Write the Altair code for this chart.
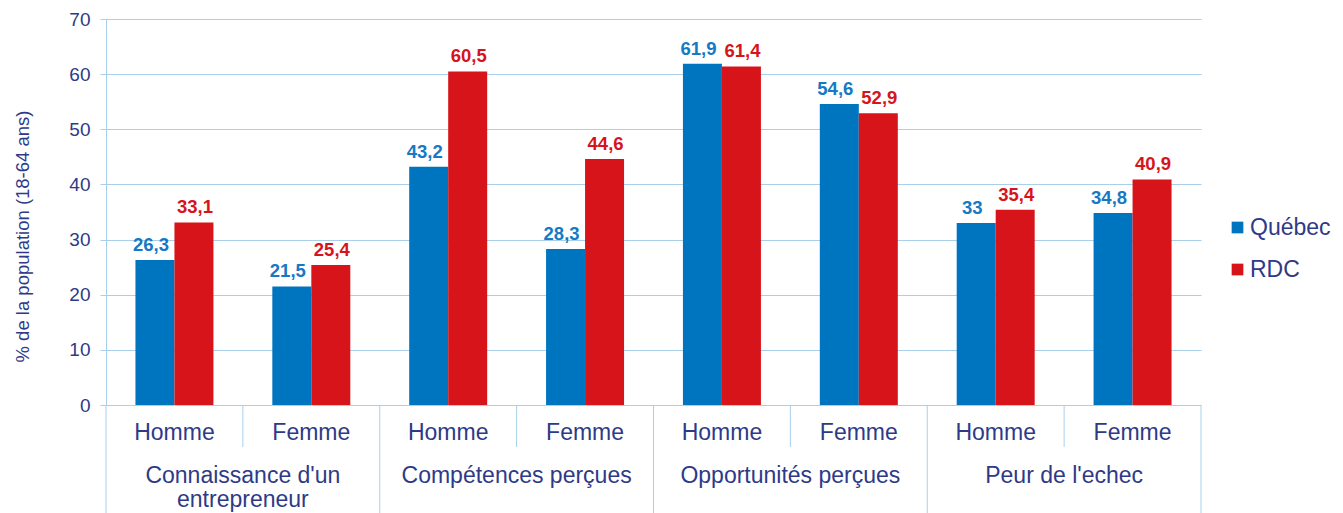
import altair as alt
import pandas as pd

groups = ["Connaissance d'un\nentrepreneur", "Compétences perçues", "Opportunités perçues", "Peur de l'echec"]
sexes = ["Homme", "Femme"]
series = ["Québec", "RDC"]
quebec = [26.3, 21.5, 43.2, 28.3, 61.9, 54.6, 33.0, 34.8]
rdc = [33.1, 25.4, 60.5, 44.6, 61.4, 52.9, 35.4, 40.9]

bar_colors = ["#0075BF", "#D7141A"]
label_colors = ["#1679C4", "#D7141A"]
NAVY = "#2E3A87"
GRID = "#A9CFEA"
FONT = "Liberation Sans"

cats = []
rows = []
for gi, g in enumerate(groups):
    for si, s in enumerate(sexes):
        idx = gi * 2 + si
        key = f"c{idx}"
        cats.append(key)
        for ser, vals in zip(series, [quebec, rdc]):
            v = vals[idx]
            rows.append({"cat": key, "group": g, "sex": s, "series": ser,
                         "value": v, "label": f"{v:g}".replace(".", ",")})
df = pd.DataFrame(rows)

cat_df = pd.DataFrame([{"cat": f"c{gi*2+si}", "group": g, "sex": s}
                       for gi, g in enumerate(groups) for si, s in enumerate(sexes)])

W, H = 1095, 386

xscale = alt.Scale(domain=cats, paddingInner=0, paddingOuter=0)
xenc = alt.X("cat:N", sort=cats, scale=xscale, axis=None)
xoff = alt.XOffset("series:N", scale=alt.Scale(domain=series, paddingInner=0, paddingOuter=0.755))

bars = alt.Chart(df).mark_bar().encode(
    x=xenc,
    xOffset=xoff,
    y=alt.Y("value:Q", scale=alt.Scale(domain=[0, 70], nice=False),
            axis=alt.Axis(values=list(range(0, 71, 10)), grid=True, gridColor=GRID, gridWidth=1,
                          domainColor=GRID, tickColor=GRID, tickSize=6,
                          labelColor=NAVY, labelFontSize=19, labelFont=FONT, labelPadding=10,
                          title="% de la population (18-64 ans)", titleFont=FONT, titleFontSize=18.5,
                          titleFontWeight="normal", titleColor=NAVY, titleAngle=270,
                          titleX=-84, titleY=217, titleAlign="center", titleBaseline="middle")),
    color=alt.Color("series:N", scale=alt.Scale(domain=series, range=bar_colors),
                    legend=alt.Legend(title=None, orient="none", legendX=1120, legendY=197,
                                      symbolType="square", symbolSize=137, symbolStrokeWidth=0,
                                      labelFont=FONT, labelFontSize=23, labelColor=NAVY,
                                      labelOffset=1, rowPadding=18, padding=0)),
)

def value_labels(ser, color, dx):
    return alt.Chart(df).transform_filter(alt.datum.series == ser).mark_text(
        fontWeight="bold", fontSize=18.5, font=FONT, color=color, baseline="alphabetic", dy=-9, dx=dx
    ).encode(
        x=xenc,
        xOffset=xoff,
        y="value:Q",
        text="label:N",
    )

lab_q = value_labels("Québec", label_colors[0], -4)
lab_r = value_labels("RDC", label_colors[1], 1)

sex_labels = alt.Chart(cat_df).mark_text(
    font=FONT, fontSize=23, color=NAVY, baseline="middle"
).encode(x=xenc, y=alt.value(414), text="sex:N")

group_labels = alt.Chart(cat_df).transform_filter(alt.datum.sex == "Homme").mark_text(
    font=FONT, fontSize=23, color=NAVY, baseline="middle", lineBreak="\n", lineHeight=24
).encode(x=alt.X("cat:N", sort=cats, scale=xscale, axis=None, bandPosition=1),
         y=alt.value(457), text="group:N")

sub_sep = alt.Chart(cat_df).transform_filter(alt.datum.sex == "Femme").mark_rule(
    color=GRID, strokeWidth=1
).encode(x=alt.X("cat:N", sort=cats, scale=xscale, axis=None, bandPosition=0),
         y=alt.value(H), y2=alt.value(H + 42))

grp_sep = alt.Chart(cat_df).transform_filter(alt.datum.sex == "Homme").mark_rule(
    color=GRID, strokeWidth=1
).encode(x=alt.X("cat:N", sort=cats, scale=xscale, axis=None, bandPosition=0),
         y=alt.value(H), y2=alt.value(H + 130))

end_sep = alt.Chart(cat_df).transform_filter(alt.datum.cat == cats[-1]).mark_rule(
    color=GRID, strokeWidth=1
).encode(x=alt.X("cat:N", sort=cats, scale=xscale, axis=None, bandPosition=1),
         y=alt.value(H), y2=alt.value(H + 130))

chart = alt.layer(bars, lab_q, lab_r, sub_sep, grp_sep, end_sep, sex_labels, group_labels).properties(
    width=W, height=H,
    autosize=alt.AutoSizeParams(type="none"),
    padding={"left": 98, "top": 11, "right": 134, "bottom": 112},
    background="white",
).configure_view(strokeWidth=0)

chart.save("out.html", embed_options={"renderer": "svg", "actions": False})
